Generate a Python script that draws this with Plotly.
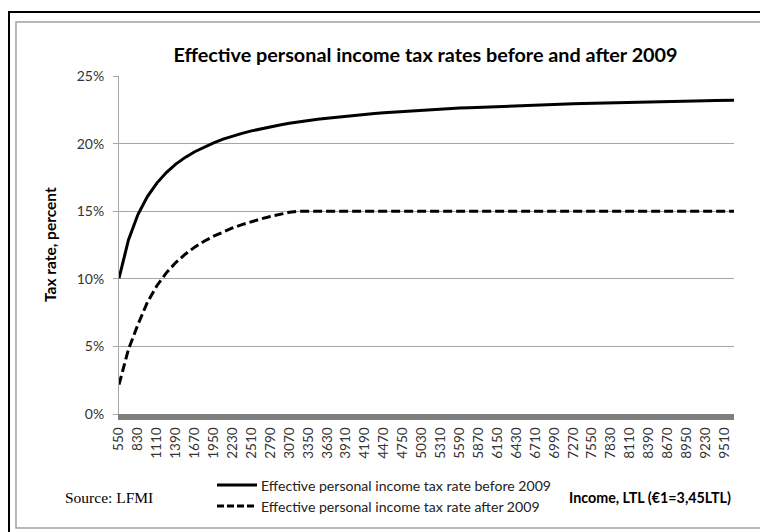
import plotly.graph_objects as go

# Income, LTL (data every 140 LTL)
income = [550, 690, 830, 970, 1110, 1250, 1390, 1530, 1670, 1810, 1950, 2090, 2230, 2370,
          2510, 2650, 2790, 2930, 3070, 3210, 3350, 3490, 3630, 3770, 3910, 4050, 4190,
          4330, 4470, 4610, 4750, 4890, 5030, 5170, 5310, 5450, 5590, 5730, 5870, 6010,
          6150, 6290, 6430, 6570, 6710, 6850, 6990, 7130, 7270, 7410, 7550, 7690, 7830,
          7970, 8110, 8250, 8390, 8530, 8670, 8810, 8950, 9090, 9230, 9370, 9510, 9650]

# Effective rate before 2009, percent
rate_before = [10.04, 12.87, 14.75, 16.08, 17.08, 17.86, 18.48, 18.98, 19.40, 19.76, 20.06,
               20.33, 20.56, 20.76, 20.94, 21.10, 21.25, 21.38, 21.50, 21.61, 21.71, 21.80,
               21.88, 21.96, 22.04, 22.10, 22.17, 22.23, 22.28, 22.33, 22.38, 22.43, 22.47,
               22.51, 22.55, 22.59, 22.63, 22.66, 22.69, 22.72, 22.75, 22.78, 22.81, 22.83,
               22.86, 22.88, 22.90, 22.92, 22.94, 22.96, 22.98, 23.00, 23.02, 23.04, 23.05,
               23.07, 23.09, 23.10, 23.11, 23.13, 23.14, 23.16, 23.17, 23.18, 23.19, 23.20]

# Effective rate after 2009, percent
rate_after = [2.18, 4.78, 6.61, 8.26, 9.49, 10.44, 11.20, 11.82, 12.34, 12.78, 13.15, 13.48,
              13.76, 14.01, 14.24, 14.43, 14.61, 14.77, 14.92, 15.00, 15.00, 15.00, 15.00,
              15.00, 15.00, 15.00, 15.00, 15.00, 15.00, 15.00, 15.00, 15.00, 15.00, 15.00,
              15.00, 15.00, 15.00, 15.00, 15.00, 15.00, 15.00, 15.00, 15.00, 15.00, 15.00,
              15.00, 15.00, 15.00, 15.00, 15.00, 15.00, 15.00, 15.00, 15.00, 15.00, 15.00,
              15.00, 15.00, 15.00, 15.00, 15.00, 15.00, 15.00, 15.00, 15.00, 15.00]

x_tick_vals = [550, 830, 1110, 1390, 1670, 1950, 2230, 2510, 2790, 3070, 3350, 3630, 3910,
               4190, 4470, 4750, 5030, 5310, 5590, 5870, 6150, 6430, 6710, 6990, 7270, 7550,
               7830, 8110, 8390, 8670, 8950, 9230, 9510]
x_tick_text = [str(v) for v in x_tick_vals]
y_tick_vals = [0, 5, 10, 15, 20, 25]
y_tick_text = ["0%", "5%", "10%", "15%", "20%", "25%"]

series_names = ["Effective personal income tax rate before 2009",
                "Effective personal income tax rate after 2009"]

W, H = 760, 532
L, R, T, B = 119, 734, 76, 414
PW, PH = R - L, B - T


def px(xp):
    return (xp - L) / PW


def py(yp):
    return (B - yp) / PH


FONT = "Lato"
fig = go.Figure()
fig.add_trace(go.Scatter(x=income, y=rate_before, mode="lines", name=series_names[0],
                         line=dict(color="black", width=3), showlegend=False))
fig.add_trace(go.Scatter(x=income, y=rate_after, mode="lines", name=series_names[1],
                         line=dict(color="black", width=3, dash="9px,4px"), showlegend=False))

fig.update_layout(
    width=W, height=H,
    margin=dict(l=L, r=W - R, t=T, b=H - B),
    paper_bgcolor="white", plot_bgcolor="white",
    font=dict(family=FONT, color="#333333"),
    title=dict(text="<b>Effective personal income tax rates before and after 2009</b>",
               x=(173 + 678) / 2 / W, xanchor="center", y=1 - 55 / H, yanchor="middle",
               font=dict(family=FONT, size=19.8, color="black")),
    xaxis=dict(range=[550, 9650], tickmode="array", tickvals=x_tick_vals, ticktext=x_tick_text,
               tickangle=-90, tickfont=dict(size=13.5, color="#333333"), showgrid=False,
               showline=True, linecolor="#7f7f7f", linewidth=6, ticks="", zeroline=False,
               ticklabelstandoff=2),
    yaxis=dict(range=[0, 25], tickmode="array", tickvals=y_tick_vals, ticktext=y_tick_text,
               tickfont=dict(size=14, color="#333333"), showgrid=True, gridcolor="#a6a6a6",
               gridwidth=1, showline=True, linecolor="#a6a6a6", linewidth=1, ticks="outside",
               ticklen=5, tickcolor="#a6a6a6", zeroline=False, ticklabelstandoff=6),
)

# axis title
fig.add_annotation(x=px(50), y=py(245), xref="paper", yref="paper", text="<b>Tax rate, percent</b>",
                   textangle=-90, showarrow=False, font=dict(family=FONT, size=15.5, color="black"),
                   xanchor="center", yanchor="middle")
# source
fig.add_annotation(x=px(63), y=py(497), xref="paper", yref="paper", text="Source: LFMI",
                   showarrow=False, font=dict(family="Liberation Serif", size=15.5, color="black"),
                   xanchor="left", yanchor="middle")
# x title
fig.add_annotation(x=px(733), y=py(497), xref="paper", yref="paper",
                   text="<b>Income, LTL (€1=3,45LTL)</b>", showarrow=False,
                   font=dict(family=FONT, size=14.3, color="black"), xanchor="right", yanchor="middle")

# manual legend
legend_y = [485, 506]
legend_dash = ["solid", "7px,3px"]
for name, ly, dsh in zip(series_names, legend_y, legend_dash):
    fig.add_shape(type="line", xref="paper", yref="paper", x0=px(217), x1=px(257), y0=py(ly), y1=py(ly),
                  line=dict(color="black", width=3, dash=dsh))
    fig.add_annotation(x=px(259), y=py(ly), xref="paper", yref="paper", text=name, showarrow=False,
                       font=dict(family=FONT, size=14.1, color="#222222"), xanchor="left", yanchor="middle")

# frames
fig.add_shape(type="rect", xref="paper", yref="paper", x0=px(9), x1=px(765), y0=py(12), y1=py(540),
              line=dict(color="black", width=2), layer="above")
fig.add_shape(type="rect", xref="paper", yref="paper", x0=px(16), x1=px(765), y0=py(22), y1=py(528),
              line=dict(color="#a0a0a0", width=1.5), layer="above")

fig.write_html("out.html")
